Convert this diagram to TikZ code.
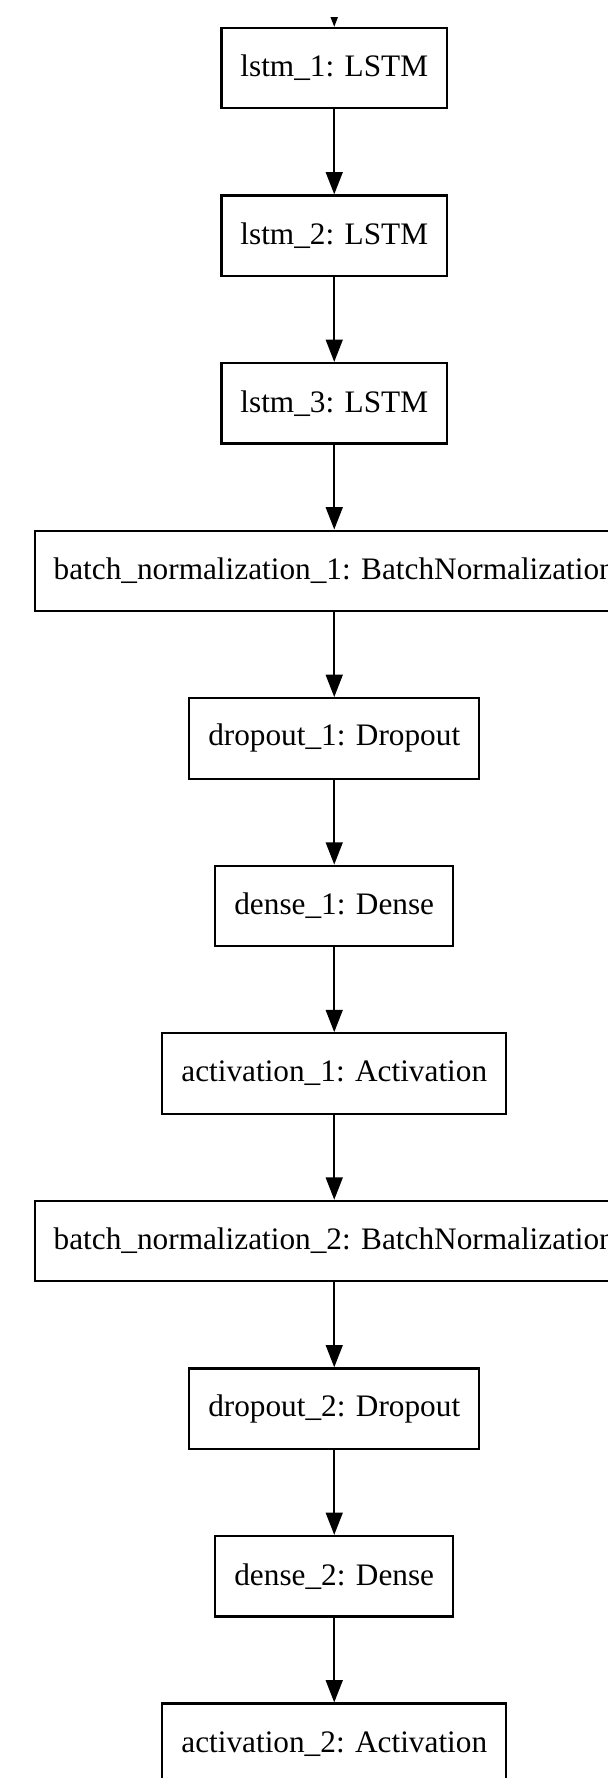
\documentclass[tikz,border=0pt]{standalone}
\usepackage{fontspec}
\setmainfont{Liberation Serif}
\usepackage{tikz}
\usetikzlibrary{arrows.meta}
\tikzstyle{layer}=[draw=black, rectangle, line width=1pt, minimum height=36pt, inner xsep=8.5pt, font=\fontsize{14pt}{16pt}\selectfont]
\tikzstyle{arrow}=[draw=black, line width=1pt, -{Triangle[length=10pt, width=7.5pt]}]

\begin{document}
\begin{tikzpicture}
		   \useasboundingbox (0, 0) rectangle (9.549, -27.97);
		   \begin{scope}
			   \coordinate (in) at (5.258, 0.6);
			   \node (0) at (5.258, -1.072)[layer] {lstm\_1: LSTM};
			   \node (1) at (5.258, -3.708)[layer] {lstm\_2: LSTM};
			   \node (2) at (5.258, -6.344)[layer] {lstm\_3: LSTM};
			   \node (3) at (5.258, -8.980)[layer] {batch\_normalization\_1: BatchNormalization};
			   \node (4) at (5.258, -11.616)[layer] {dropout\_1: Dropout};
			   \node (5) at (5.258, -14.252)[layer] {dense\_1: Dense};
			   \node (6) at (5.258, -16.888)[layer] {activation\_1: Activation};
			   \node (7) at (5.258, -19.524)[layer] {batch\_normalization\_2: BatchNormalization};
			   \node (8) at (5.258, -22.160)[layer] {dropout\_2: Dropout};
			   \node (9) at (5.258, -24.796)[layer] {dense\_2: Dense};
			   \node (10) at (5.258, -27.432)[layer] {activation\_2: Activation};
		   \end{scope}
		   \begin{scope}
			   \clip (0, -0.283) rectangle (9.549, -2);
			   \path [arrow] (in) edge (0);
		   \end{scope}
		   \begin{scope}
			   \path [arrow] (0) edge (1);
			   \path [arrow] (1) edge (2);
			   \path [arrow] (2) edge (3);
			   \path [arrow] (3) edge (4);
			   \path [arrow] (4) edge (5);
			   \path [arrow] (5) edge (6);
			   \path [arrow] (6) edge (7);
			   \path [arrow] (7) edge (8);
			   \path [arrow] (8) edge (9);
			   \path [arrow] (9) edge (10);
		   \end{scope}
	   \end{tikzpicture}
\end{document}
